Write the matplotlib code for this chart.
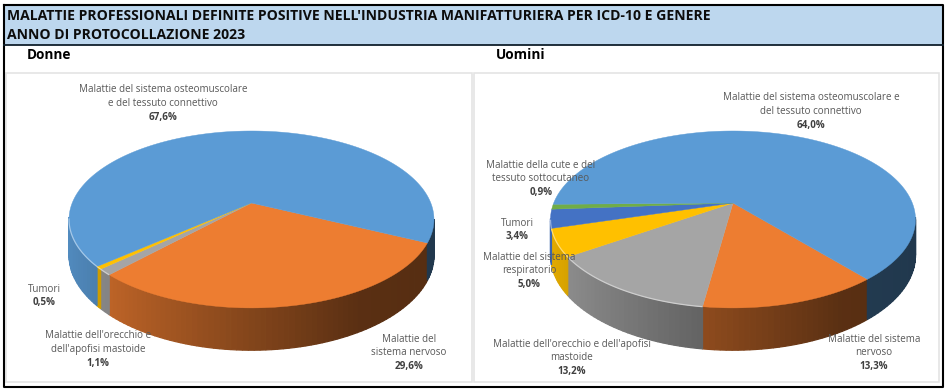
import numpy as np
import matplotlib
matplotlib.use("Agg")
import matplotlib.pyplot as plt
from matplotlib.patches import Rectangle
from matplotlib.colors import to_rgb

W, H = 948, 391
plt.rcParams['font.family'] = ['Open Sans', 'DejaVu Sans']

title_lines = ["MALATTIE PROFESSIONALI DEFINITE POSITIVE NELL'INDUSTRIA MANIFATTURIERA PER ICD-10 E GENERE",
               "ANNO DI PROTOCOLLAZIONE 2023"]
group_names = ["Donne", "Uomini"]

donne_values = [29.6, 1.1, 0.5, 67.6]
donne_colors = ["#ED7D31", "#A5A5A5", "#FFC000", "#5B9BD5"]
donne_labels = ["Malattie del\nsistema nervoso", "Malattie dell'orecchio e\ndell'apofisi mastoide",
                "Tumori", "Malattie del sistema osteomuscolare\ne del tessuto connettivo"]
donne_pct = ["29,6%", "1,1%", "0,5%", "67,6%"]

uomini_values = [13.3, 13.2, 5.0, 3.4, 0.9, 64.0]
uomini_colors = ["#ED7D31", "#A5A5A5", "#FFC000", "#4472C4", "#70AD47", "#5B9BD5"]
uomini_labels = ["Malattie del sistema\nnervoso", "Malattie dell'orecchio e dell'apofisi\nmastoide",
                 "Malattie del sistema\nrespiratorio", "Tumori",
                 "Malattie della cute e del\ntessuto sottocutaneo",
                 "Malattie del sistema osteomuscolare e\ndel tessuto connettivo"]
uomini_pct = ["13,3%", "13,2%", "5,0%", "3,4%", "0,9%", "64,0%"]

# centre x and centre y of each label's first line
donne_label_xy = [(409, 339), (98, 336), (44, 289), (163, 90)]
uomini_label_xy = [(874, 339), (572, 344), (529, 257), (517, 223), (541, 165), (811, 98)]

fig = plt.figure(figsize=(W / 100, H / 100), dpi=100)
ax = fig.add_axes([0, 0, 1, 1])
ax.set_xlim(0, W)
ax.set_ylim(H, 0)
ax.axis('off')

# frame, title band, panels
ax.add_patch(Rectangle((4.5, 5), 938.5, 39.5, fc="#BDD7EE", ec="none", zorder=0))
ax.plot([4.5, 943, 943, 4.5, 4.5], [4.5, 4.5, 387, 387, 4.5], color="black", lw=1.5, zorder=8)
ax.plot([4.5, 943], [44.5, 44.5], color="#10202c", lw=1.3, zorder=8)
for x0, x1 in [(6, 472), (474.5, 939)]:
    ax.add_patch(Rectangle((x0, 72.5), x1 - x0, 309, fc="white", ec="#e4e4e4", lw=1.2, zorder=1))

ax.text(7, 16, title_lines[0], fontsize=10.1, fontweight='bold', va='center', ha='left', color="#0c0c0c", zorder=9)
ax.text(7, 35, title_lines[1], fontsize=10.1, fontweight='bold', va='center', ha='left', color="#0c0c0c", zorder=9)
ax.text(27, 55, group_names[0], fontsize=9.8, fontweight='bold', va='center', ha='left', color="black", zorder=9)
ax.text(496, 55, group_names[1], fontsize=9.8, fontweight='bold', va='center', ha='left', color="black", zorder=9)

K = 0.186      # perspective
A = 85.4       # vertical scale, px
B = 179.3      # horizontal scale, px
DEPTH = 42.0   # rim height at the front, px


def project(cx, cy, theta, extra=0.0):
    u, v = np.cos(theta), np.sin(theta)
    w = 1 + K * v
    return cx + B * u / w, cy - A * v / w + extra / w * 0.82


def shade(u):
    return np.interp(u, [-1, -0.7, 0, 0.5, 1], [0.90, 0.80, 0.55, 0.38, 0.36])


def rgb_mix(col):
    return np.array(to_rgb(col)) * 0.55 + 0.45


def draw_pie(cx, cy, values, colors, start_deg):
    vals = np.asarray(values, float)
    edges = np.radians(start_deg - np.concatenate([[0], np.cumsum(vals)]) / vals.sum() * 360)
    # rim: front part only, painted as small shaded quads
    for i, col in enumerate(colors):
        rgb = np.array(to_rgb(col))
        n = max(2, int(abs(edges[i + 1] - edges[i]) / np.radians(1.5)))
        t = np.linspace(edges[i], edges[i + 1], n + 1)
        for a, b in zip(t[:-1], t[1:]):
            mid = (a + b) / 2
            if np.sin(mid) > -0.17:
                continue
            xa, ya = project(cx, cy, a)
            xb, yb = project(cx, cy, b)
            xc, yc = project(cx, cy, b, DEPTH)
            xd, yd = project(cx, cy, a, DEPTH)
            ax.fill([xa, xb, xc, xd], [ya, yb, yc, yd],
                    color=tuple(rgb * shade(np.cos(mid))), lw=0.9, zorder=3)
    # top faces
    for i, col in enumerate(colors):
        t = np.linspace(edges[i], edges[i + 1], max(3, int(abs(edges[i + 1] - edges[i]) * 60)))
        x, y = project(cx, cy, t)
        ax.fill(np.r_[cx, x], np.r_[cy, y], color=col, lw=0.3, zorder=4)
        # soft bevel highlight along the left front edge
        if col != "#ED7D31":
            keep = (np.sin(t) < -0.17) & (np.cos(t) < -0.1)
            if keep.sum() > 1:
                ax.plot(x[keep], y[keep], color=tuple(rgb_mix(col)), lw=0.9, zorder=5,
                        solid_capstyle='butt')


draw_pie(251.5, 203, donne_values, donne_colors, -25.5)
draw_pie(733, 203, uomini_values, uomini_colors, -50)

LINE = 13.7


def draw_labels(names, pcts, xy):
    for name, pct, (x, y) in zip(names, pcts, xy):
        lines = name.split("\n")
        for j, line in enumerate(lines):
            ax.text(x, y + j * LINE, line, fontsize=7.1, color="#595959", ha='center', va='center', zorder=6)
        ax.text(x, y + len(lines) * LINE, pct, fontsize=7.1, fontweight='bold', color="#404040",
                ha='center', va='center', zorder=6)


draw_labels(donne_labels, donne_pct, donne_label_xy)
draw_labels(uomini_labels, uomini_pct, uomini_label_xy)

fig.savefig("out.png", dpi=100)
